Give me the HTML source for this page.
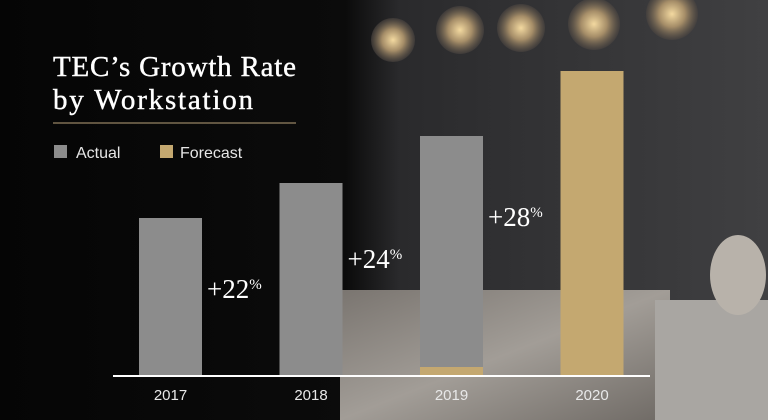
<!DOCTYPE html>
<html><head><meta charset="utf-8"><style>
body{margin:0;width:768px;height:420px;overflow:hidden;font-family:"Liberation Sans",sans-serif}
svg{display:block}
</style></head><body>
<svg id="c" width="768" height="420">
<defs>
<linearGradient id="bg" x1="0" x2="1" y1="0" y2="0">
<stop offset="0" stop-color="#050505"/><stop offset="0.45" stop-color="#0b0b0b"/><stop offset="0.52" stop-color="#2a2a2c"/><stop offset="1" stop-color="#404042"/></linearGradient>
<linearGradient id="marble" x1="0" x2="1" y1="0" y2="1">
<stop offset="0" stop-color="#7a7570"/><stop offset="0.5" stop-color="#a29d97"/><stop offset="1" stop-color="#6f6a65"/></linearGradient>
<radialGradient id="bulb"><stop offset="0" stop-color="#f3d9a0"/><stop offset="0.5" stop-color="#a58d68"/><stop offset="1" stop-color="#4a4440" stop-opacity="0.6"/></radialGradient>
</defs>
<rect width="768" height="420" fill="url(#bg)"/>
<rect x="340" y="290" width="330" height="130" fill="url(#marble)"/>
<rect x="655" y="300" width="113" height="120" fill="#a9a6a2"/>
<ellipse cx="738" cy="275" rx="28" ry="40" fill="#b8b2aa"/>
<g>
<circle cx="393" cy="40" r="22" fill="url(#bulb)"/><circle cx="460" cy="30" r="24" fill="url(#bulb)"/>
<circle cx="521" cy="28" r="24" fill="url(#bulb)"/><circle cx="594" cy="24" r="26" fill="url(#bulb)"/>
<circle cx="672" cy="14" r="26" fill="url(#bulb)"/></g>
<text x="53" y="76" fill="#fff" font-family="Liberation Serif, serif" font-size="29" stroke="#fff" stroke-width="0.4" textLength="243">TEC’s Growth Rate</text>
<text x="53" y="109" fill="#fff" font-family="Liberation Serif, serif" font-size="29" stroke="#fff" stroke-width="0.4" textLength="200">by Workstation</text>
<line x1="53" x2="296" y1="123" y2="123" stroke="#b9a27a" stroke-width="1"/>
<rect x="54" y="145" width="13" height="13" fill="#8c8c8c"/>
<text x="76" y="158" fill="#e6e6e6" font-size="16">Actual</text>
<rect x="160" y="145" width="13" height="13" fill="#c4a870"/>
<text x="180" y="158" fill="#e6e6e6" font-size="16">Forecast</text>
<g id="bars"></g>
<line x1="113" x2="650" y1="376" y2="376" stroke="#fff" stroke-width="2"/>
</svg>
<script>
const categories=["2017","2018","2019","2020"];
const actual=[157,192,231,0];
const forecast=[0,0,8,304];
const growthLabels=["+22","+24","+28"];
const base=375, unit=1, x0=139, step=140.5, bw=63;
const y=v=>base-v*unit;
const xs=i=>x0+i*step;
const g=document.getElementById('bars'), NS="http://www.w3.org/2000/svg";
categories.forEach((c,i)=>{
  const a=document.createElementNS(NS,'rect');
  a.setAttribute('x',xs(i));a.setAttribute('width',bw);
  a.setAttribute('y',y(actual[i]+forecast[i]));a.setAttribute('height',actual[i]*unit);
  a.setAttribute('fill','#8c8c8c');
  
  
  g.appendChild(a);
  const f=document.createElementNS(NS,'rect');
  f.setAttribute('x',xs(i));f.setAttribute('width',bw);
  f.setAttribute('y',y(forecast[i]));f.setAttribute('height',forecast[i]*unit);
  f.setAttribute('fill','#c4a870');
  
  
  g.appendChild(f);
  const t=document.createElementNS(NS,'text');
  t.setAttribute('x',xs(i)+bw/2);t.setAttribute('y',400);
  t.setAttribute('text-anchor','middle');t.setAttribute('fill','#e8e8e8');t.setAttribute('font-size','15');
  t.textContent=c;
  
  
  g.appendChild(t);
});
growthLabels.forEach((l,i)=>{
  const tot0=actual[i]+forecast[i];
  const t=document.createElementNS(NS,'text');
  t.setAttribute('x',xs(i)+bw+5);t.setAttribute('y',y(tot0)+80+i*5);
  t.setAttribute('fill','#fff');t.setAttribute('font-family','Liberation Serif, serif');t.setAttribute('font-size','27');
  t.innerHTML=l+'<tspan font-size="15" dy="-9">%</tspan>';
  
  
  g.appendChild(t);
});
</script>
</body></html>
